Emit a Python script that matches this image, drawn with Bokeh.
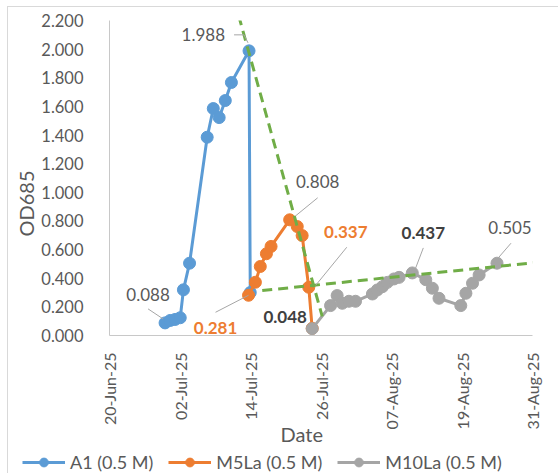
import math
import pandas as pd
from bokeh.plotting import figure
from bokeh.layouts import column
from bokeh.models import (Range1d, FixedTicker, DatetimeTickFormatter, NumeralTickFormatter,
                          Label, Legend, LegendItem, Title)
from bokeh.embed import file_html
from bokeh.resources import INLINE

# ---------------- data ----------------
a1_dates = ["2025-06-29 11:00", "2025-06-30 08:00", "2025-07-01 04:00", "2025-07-02 01:00",
            "2025-07-02 14:00", "2025-07-03 15:00", "2025-07-06 15:00", "2025-07-07 16:00",
            "2025-07-08 16:00", "2025-07-09 17:00", "2025-07-10 18:00", "2025-07-13 18:00",
            "2025-07-13 23:00"]
a1_od = [0.088, 0.105, 0.112, 0.124, 0.319, 0.505, 1.385, 1.585, 1.522, 1.641, 1.767, 1.988, 0.300]

m5_dates = ["2025-07-13 16:00", "2025-07-14 20:00", "2025-07-15 16:00", "2025-07-16 17:00",
            "2025-07-17 12:00", "2025-07-20 16:00", "2025-07-21 23:00", "2025-07-22 19:00",
            "2025-07-23 22:00", "2025-07-24 12:00"]
m5_od = [0.281, 0.372, 0.482, 0.571, 0.622, 0.808, 0.761, 0.698, 0.337, 0.050]

m10_dates = ["2025-07-24 12:00", "2025-07-27 15:00", "2025-07-28 18:00", "2025-07-29 15:00",
             "2025-07-30 18:00", "2025-07-31 21:00", "2025-08-03 18:00", "2025-08-04 14:00",
             "2025-08-05 11:00", "2025-08-06 07:00", "2025-08-07 10:00", "2025-08-08 07:00",
             "2025-08-10 13:00", "2025-08-12 20:00", "2025-08-13 23:00", "2025-08-15 02:00",
             "2025-08-18 19:00", "2025-08-19 16:00", "2025-08-20 19:00", "2025-08-21 22:00",
             "2025-08-24 23:00"]
m10_od = [0.048, 0.209, 0.279, 0.225, 0.239, 0.239, 0.290, 0.318, 0.341, 0.371, 0.395, 0.406,
          0.437, 0.390, 0.330, 0.260, 0.209, 0.295, 0.365, 0.423, 0.505]

trend1_dates = ["2025-07-11 23:30", "2025-07-26 05:00"]
trend1_od = [2.235, 0.133]
trend2_dates = ["2025-07-16 00:00", "2025-09-01 02:00"]
trend2_od = [0.314, 0.512]

tick_dates = ["2025-06-20", "2025-07-02", "2025-07-14", "2025-07-26", "2025-08-07",
              "2025-08-19", "2025-08-31"]
y_ticks = [0.0, 0.2, 0.4, 0.6, 0.8, 1.0, 1.2, 1.4, 1.6, 1.8, 2.0, 2.2]

series_names = ["A1 (0.5 M)", "M5La (0.5 M)", "M10La (0.5 M)"]
series_colors = ["#5B9BD5", "#ED7D31", "#A5A5A5"]

# ---------------- helpers ----------------
def ms(s):
    return pd.Timestamp(s).value / 1e6

def to_dt(lst):
    return [pd.Timestamp(s) for s in lst]

FONT = "Lato"
X0, X1 = ms(tick_dates[0]), ms(tick_dates[-1])
Y0, Y1 = 0.0, 2.2
FW, FH = 423, 315
px_x = FW / (X1 - X0)      # px per ms
px_y = FH / (Y1 - Y0)      # px per unit

p = figure(frame_width=FW, frame_height=FH, x_axis_type="datetime",
           x_range=Range1d(X0, X1), y_range=Range1d(Y0, Y1),
           output_backend="svg", toolbar_location=None,
           min_border_left=101, min_border_right=26, min_border_top=13, min_border_bottom=116)
p.frame_align = False
p.outline_line_color = None
p.xgrid.grid_line_color = None
p.ygrid.grid_line_color = None
p.background_fill_color = "white"
p.border_fill_color = "white"

for ax in (p.xaxis[0], p.yaxis[0]):
    ax.axis_line_color = "#c8c8c8"
    ax.axis_line_width = 1
    ax.major_tick_line_color = None
    ax.minor_tick_line_color = None
    ax.major_label_text_font = FONT
    ax.major_label_text_color = "#595959"

p.yaxis[0].ticker = FixedTicker(ticks=y_ticks)
p.yaxis[0].formatter = NumeralTickFormatter(format="0.000")
p.yaxis[0].major_label_standoff = 20
p.yaxis[0].major_label_text_font_size = "16.5px"

p.xaxis[0].ticker = FixedTicker(ticks=[ms(d) for d in tick_dates])
fmt = "%d-%b-%y"
p.xaxis[0].formatter = DatetimeTickFormatter(milliseconds=fmt, seconds=fmt, minsec=fmt, minutes=fmt,
                                             hourmin=fmt, hours=fmt, days=fmt, months=fmt, years=fmt)
p.xaxis[0].major_label_orientation = math.pi / 2
p.xaxis[0].major_label_standoff = 11
p.xaxis[0].major_label_text_font_size = "16px"

# ---------------- series ----------------
for dates, vals, col in [(a1_dates, a1_od, series_colors[0]),
                         (m5_dates, m5_od, series_colors[1]),
                         (m10_dates, m10_od, series_colors[2])]:
    x = to_dt(dates)
    p.line(x, vals, line_color=col, line_width=3)
    p.scatter(x, vals, size=12, fill_color=col, line_color=col)

for dates, vals in [(trend1_dates, trend1_od), (trend2_dates, trend2_od)]:
    p.line(to_dt(dates), vals, line_color="#70AD47", line_width=3, line_dash="10 6")

# ---------------- data labels ----------------
labels = [
    ("0.088", a1_dates, a1_od, 0, -17, -28, "center", False, "#595959", [(-2, -4), (-17, -14)]),
    ("1.988", a1_dates, a1_od, 11, -24, -16, "right", False, "#595959", [(-1, -8), (-5, -16), (-15, -16)]),
    ("0.281", m5_dates, m5_od, 0, -33, 33, "center", True, "#ED7D31", [(0, 0), (-33, 17)]),
    ("0.808", m5_dates, m5_od, 5, 28, -38, "center", False, "#595959", [(6, -4), (28, -22)]),
    ("0.337", m5_dates, m5_od, 8, 37, -55, "center", True, "#ED7D31", [(7, -2), (38, -40)]),
    ("0.048", m10_dates, m10_od, 0, -27, -12, "center", True, "#404040", []),
    ("0.437", m10_dates, m10_od, 12, 11, -40, "center", True, "#404040", [(3, -4), (11, -25)]),
    ("0.505", m10_dates, m10_od, 20, 13, -36, "center", False, "#595959", [(1, -5), (14, -20)]),
]
for text, dl, vl, i, dx, dy, align, bold, col, leader in labels:
    ax_ms = ms(dl[i])
    ay = vl[i]
    if leader:
        lx = [ax_ms + ox / px_x for ox, oy in leader]
        ly = [ay - oy / px_y for ox, oy in leader]
        p.line(lx, ly, line_color="#a6a6a6", line_width=1)
    p.add_layout(Label(x=ax_ms, y=ay, x_offset=dx, y_offset=-dy, text=text,
                       text_font=FONT, text_font_size="17px", text_color=col,
                       text_font_style="bold" if bold else "normal",
                       text_align=align, text_baseline="middle"))

# ---------------- axis titles (side panels) ----------------
p.add_layout(Title(text="OD685", align="left", offset=99, standoff=2,
                   text_font=FONT, text_font_size="20px", text_color="#595959",
                   text_font_style="normal"), "left")
p.add_layout(Title(text="Date", align="left", offset=171, standoff=-22, vertical_align="top",
                   text_font=FONT, text_font_size="20px", text_color="#595959",
                   text_font_style="normal"), "below")

# ---------------- legend (own strip below the chart) ----------------
lg = figure(width=FW + 101 + 26, height=22, min_border=0, output_backend="svg",
            toolbar_location=None, x_range=Range1d(0, 1), y_range=Range1d(0, 1))
lg.frame_align = False
lg.axis.visible = False
lg.xgrid.grid_line_color = None
lg.ygrid.grid_line_color = None
lg.outline_line_color = None
items = []
for name, col in zip(series_names, series_colors):
    ln = lg.line(x=[-5, -4], y=[-5, -4], line_color=col, line_width=3)
    sc = lg.scatter(x=[-5], y=[-5], size=12, fill_color=col, line_color=col)
    items.append(LegendItem(label=name, renderers=[ln, sc]))
legend = Legend(items=items, orientation="horizontal", location=(14, 0),
                glyph_width=43, glyph_height=22, label_height=22, label_standoff=5, spacing=15,
                label_text_font=FONT, label_text_font_size="18px", label_text_color="#595959",
                border_line_color=None, background_fill_alpha=0, padding=0, margin=0)
lg.add_layout(legend, "center")

layout = column(p, lg, spacing=0)
layout.styles = {"margin-left": "7px", "margin-top": "6px",
                 "border-top": "1px solid #d9d9d9", "border-left": "1px solid #d9d9d9"}

open("out.html", "w").write(file_html(layout, INLINE))
